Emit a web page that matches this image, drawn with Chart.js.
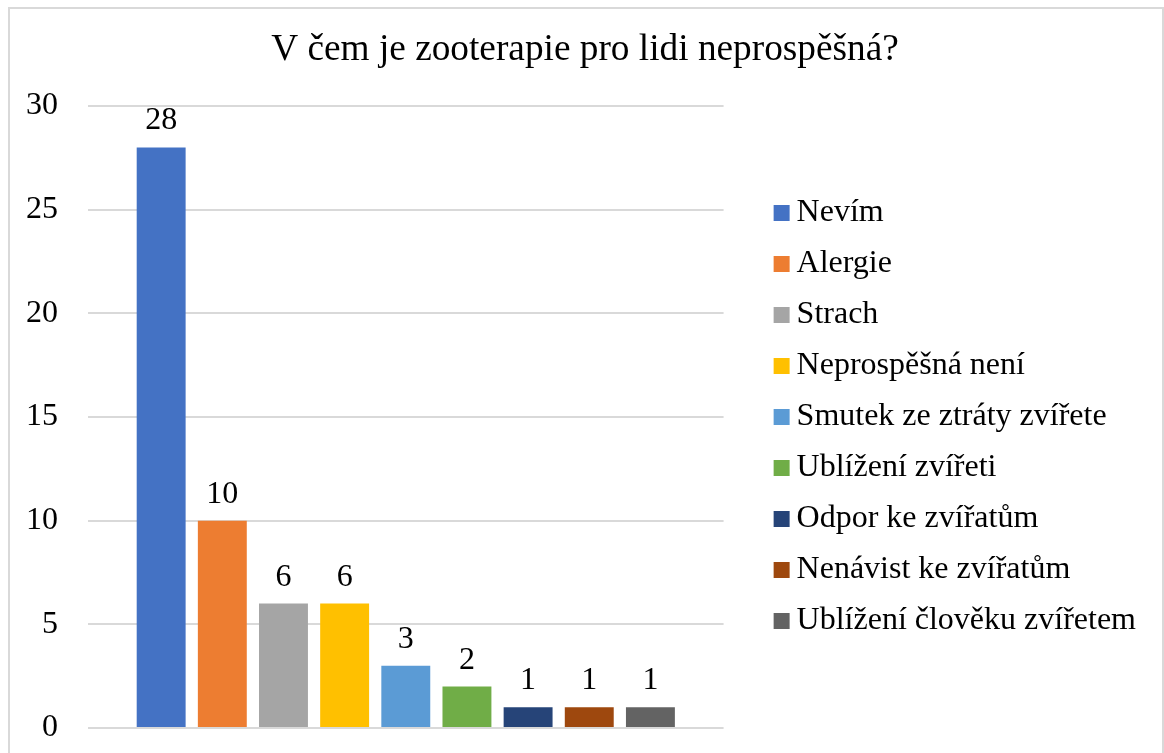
<!DOCTYPE html>
<html>
<head>
<meta charset="utf-8">
<script src="https://cdn.jsdelivr.net/npm/chart.js@4"></script>
<style>
  body { margin: 0; background: #fff; }
  #frame { position: absolute; left: 8px; top: 7px; width: 1152px; height: 800px; border: 2px solid #d9d9d9; }
  #chart { position: absolute; left: 0; top: 0; }
</style>
</head>
<body>
<div id="frame"></div>
<canvas id="chart" width="1164" height="753"></canvas>
<script>
// DATA
const categories = ['Nevím', 'Alergie', 'Strach', 'Neprospěšná není', 'Smutek ze ztráty zvířete',
  'Ublížení zvířeti', 'Odpor ke zvířatům', 'Nenávist ke zvířatům', 'Ublížení člověku zvířetem'];
const values = [28, 10, 6, 6, 3, 2, 1, 1, 1];
const colors = ['#4472C4', '#ED7D31', '#A5A5A5', '#FFC000', '#5B9BD5', '#70AD47', '#264478', '#9E480E', '#636363'];
const yTicks = [0, 5, 10, 15, 20, 25, 30];
const chartTitle = 'V čem je zooterapie pro lidi neprospěšná?';

const FONT = "'Liberation Serif', 'Times New Roman', serif";

// legend marker: 16px square sitting close to the text (Excel style)
function legendMarker(color) {
  const c = document.createElement('canvas');
  c.width = 39;
  c.height = 16;
  const g = c.getContext('2d');
  g.fillStyle = color;
  g.fillRect(16, 0, 16, 16);
  return c;
}

// value labels above the bars
const barLabels = {
  id: 'barLabels',
  afterDatasetsDraw(chart) {
    const ctx = chart.ctx;
    ctx.save();
    ctx.font = '32px ' + FONT;
    ctx.fillStyle = '#000';
    ctx.textAlign = 'center';
    ctx.textBaseline = 'alphabetic';
    chart.data.datasets.forEach((ds, i) => {
      const bar = chart.getDatasetMeta(i).data[0];
      ctx.fillText(ds.data[0], bar.x, bar.y - 18);
    });
    ctx.restore();
  }
};

const datasets = categories.map((name, i) => ({
  label: name,
  data: [values[i]],
  backgroundColor: colors[i],
  pointStyle: legendMarker(colors[i]),
  borderWidth: 0,
  categoryPercentage: 0.866,
  barPercentage: 0.8
}));

new Chart(document.getElementById('chart').getContext('2d'), {
  type: 'bar',
  data: { labels: [''], datasets: datasets },
  options: {
    responsive: false,
    animation: false,
    layout: { padding: { top: 0, bottom: 25, left: 24, right: 18 } },
    plugins: {
      title: {
        display: true,
        text: chartTitle,
        color: '#000',
        font: { family: FONT, size: 37.3, weight: 'normal' },
        padding: { top: 28, bottom: 33.2 }
      },
      legend: {
        position: 'right',
        fullSize: false,
        maxWidth: 500,
        labels: {
          color: '#000',
          font: { family: FONT, size: 32 },
          usePointStyle: true,
          boxWidth: 7,
          boxHeight: 16,
          padding: 19
        }
      },
      tooltip: { enabled: false }
    },
    scales: {
      x: { display: false },
      y: {
        min: 0,
        max: 30,
        afterBuildTicks: s => { s.ticks = yTicks.map(v => ({ value: v })); },
        afterFit: s => { s.width = 64; },
        border: { display: false },
        grid: { color: '#d9d9d9', lineWidth: 2, tickLength: 27, tickColor: 'rgba(0,0,0,0)' },
        ticks: { color: '#000', font: { family: FONT, size: 32 }, padding: 3 }
      },
      gap: {
        position: 'right',
        display: true,
        afterFit: s => { s.width = 31; },
        border: { display: false },
        grid: { display: false },
        ticks: { display: false }
      }
    }
  },
  plugins: [barLabels]
});
</script>
</body>
</html>
